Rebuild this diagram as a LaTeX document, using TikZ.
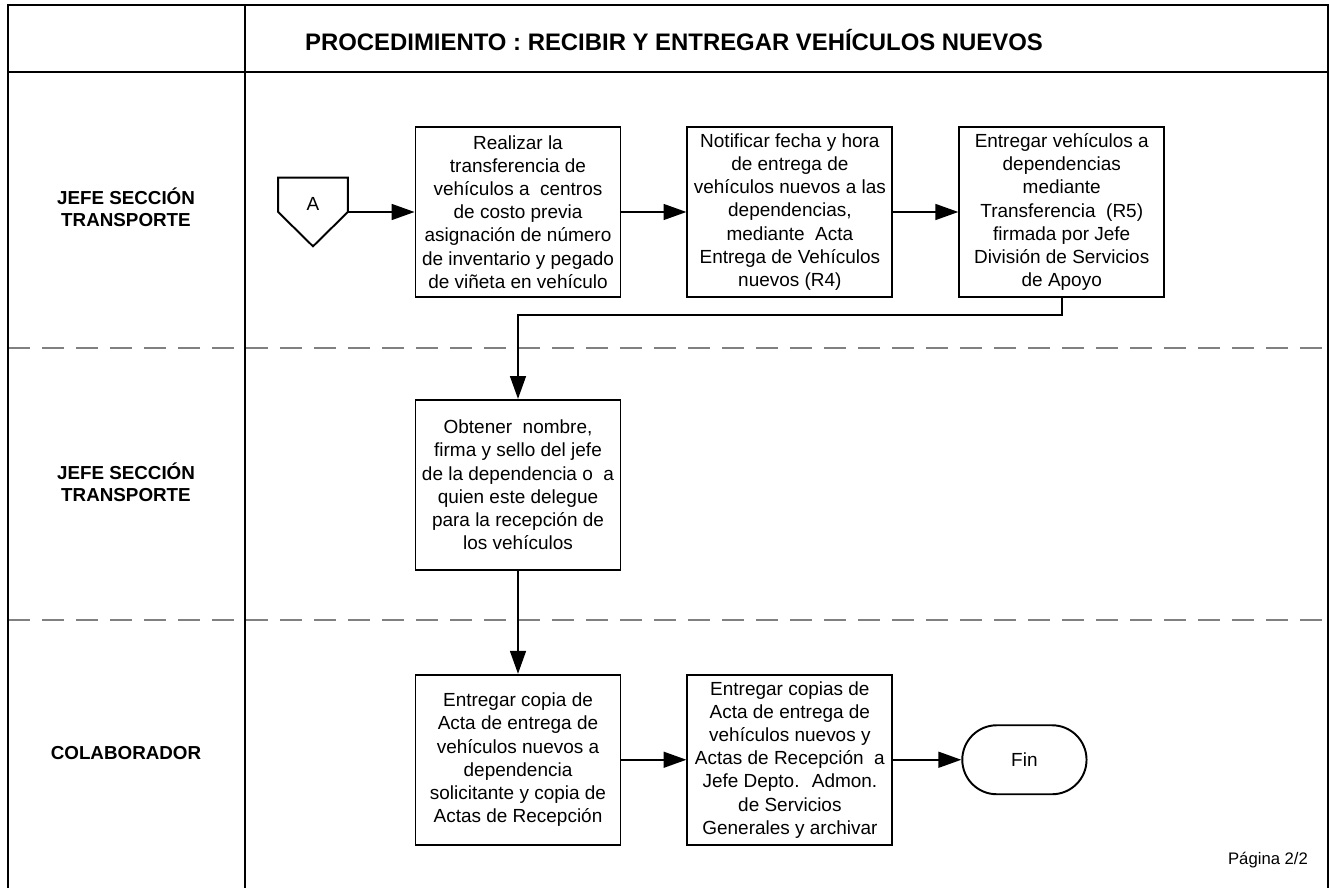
\documentclass[tikz,border=0pt]{standalone}
\usepackage{fontspec}
\setmainfont{Liberation Sans}
\usetikzlibrary{positioning,shapes.misc,arrows.meta}

\begin{document}
\begin{tikzpicture}[x=0.02cm,y=-0.02cm,
    font=\fontsize{10.8}{13.2}\selectfont,
    stepbox/.style={draw,line width=1.1pt,minimum width=4.1cm,minimum height=3.4cm,align=center,inner sep=1pt},
    endnode/.style={draw,line width=1.1pt,rounded rectangle,minimum width=2.72cm,minimum height=1.38cm},
    lanelabel/.style={font=\fontsize{10.7}{12.5}\selectfont\bfseries,align=center},
    lanesep/.style={gray,line width=1.7pt,dash pattern=on 0.44cm off 0.24cm},
    flow/.style={-{Triangle[length=13pt,width=9pt]},line width=1.1pt},
    node distance=1.3cm
    ]
    \useasboundingbox (0,0) rectangle (1329,888);

    % the lane separators
    \draw[lanesep] (8,348) -- (1328,348);
    \draw[lanesep] (8,620) -- (1328,620);

    % the frame
    \draw[line width=1.7pt] (8,888) -- (8,5) -- (1328,5) -- (1328,888);
    \draw[line width=1.7pt] (8,72) -- (1328,72);
    \draw[line width=1.7pt] (245,5) -- (245,888);

    % the titles
    \node[font=\fontsize{13.6}{16}\selectfont\bfseries,anchor=west] (title) at (299,40) {PROCEDIMIENTO : RECIBIR Y ENTREGAR VEHÍCULOS NUEVOS};
    \node[lanelabel] (lane1) at (126,207) {JEFE SECCIÓN\\TRANSPORTE};
    \node[lanelabel] (lane2) at (126,482) {JEFE SECCIÓN\\TRANSPORTE};
    \node[lanelabel] (lane3) at (126,753) {COLABORADOR};
    \node[font=\fontsize{9.5}{11}\selectfont] (page) at (1268,860) {Página 2/2};

    % the off-page connector
    \node[minimum width=1.38cm,minimum height=1.36cm,inner sep=0pt] (conA) at (313,212) {};
    \draw[line width=1.1pt] (conA.north west) -- (conA.north east) -- (conA.east) -- (conA.south) -- (conA.west) -- cycle;
    \node (labA) at (313,204) {A};

    % the steps
    \node[stepbox] (box1) at (518,212) {Realizar la\\transferencia de\\vehículos a~ centros\\de costo previa\\asignación de número\\de inventario y pegado\\de viñeta en vehículo};
    \node[stepbox,right=of box1] (box2) {Notificar fecha y hora\\de entrega de\\vehículos nuevos a las\\dependencias,\\mediante~ Acta\\Entrega de Vehículos\\nuevos (R4)};
    \node[stepbox,right=of box2] (box3) {Entregar vehículos a\\dependencias\\mediante\\Transferencia~ (R5)\\firmada por Jefe\\División de Servicios\\de Apoyo};
    \node[stepbox,below=2.02cm of box1] (box4) {Obtener~ nombre,\\firma y sello del jefe\\de la dependencia o~ a\\quien este delegue\\para la recepción de\\los vehículos};
    \node[stepbox,below=2.06cm of box4] (box5) {Entregar copia de\\Acta de entrega de\\vehículos nuevos a\\dependencia\\solicitante y copia de\\Actas de Recepción};
    \node[stepbox,right=of box5] (box6) {Entregar copias de\\Acta de entrega de\\vehículos nuevos y\\Actas de Recepción~ a\\Jefe Depto.~ Admon.\\de Servicios\\Generales y archivar};
    \node[endnode,right=1.36cm of box6] (fin) {Fin};

    % the connectors
    \draw[flow] (conA.east) -- (box1);
    \draw[flow] (box1) -- (box2);
    \draw[flow] (box2) -- (box3);
    \draw[flow] (box3.south) -- ++(0,17) -| (box4.north);
    \draw[flow] (box4) -- (box5);
    \draw[flow] (box5) -- (box6);
    \draw[flow] (box6) -- (fin);

\end{tikzpicture}
\end{document}
